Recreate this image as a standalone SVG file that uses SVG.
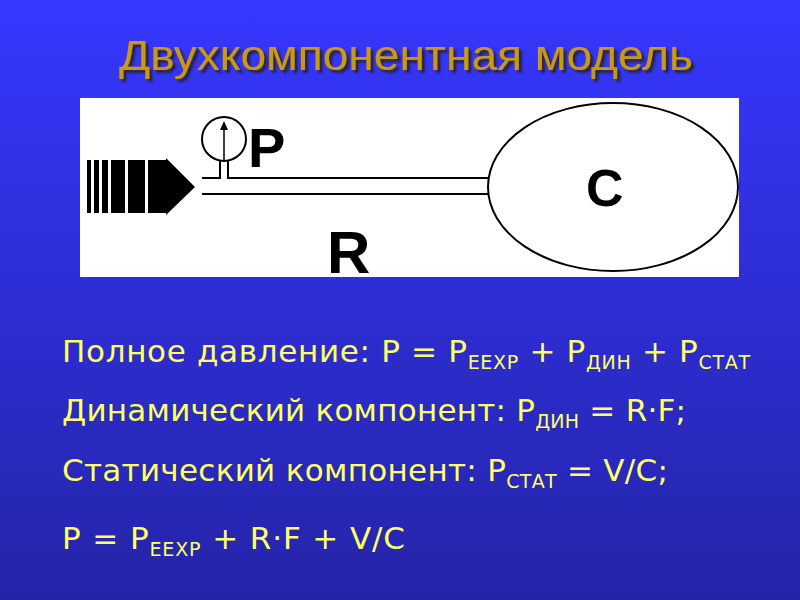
<svg xmlns="http://www.w3.org/2000/svg" width="800" height="600" viewBox="0 0 800 600">
<defs>
<linearGradient id="bg" x1="0" y1="0" x2="0" y2="1"><stop offset="0" stop-color="#3737ff"/><stop offset="1" stop-color="#2424a8"/></linearGradient>
<filter id="sh" x="-5%" y="-20%" width="110%" height="140%"><feDropShadow dx="3" dy="3" stdDeviation="0.8" flood-color="#222" flood-opacity="0.9"/></filter>
<style>
.t{font-family:"DejaVu Sans",sans-serif;font-size:31px;fill:#ffff66}
.s{font-size:19px}
.b{font-family:"Liberation Sans",Arial,sans-serif;font-weight:bold;fill:#000}
.ln{stroke:#000;stroke-width:2;fill:none}
</style>
</defs>
<rect width="800" height="600" fill="url(#bg)"/>
<g id="title" font-family="'Liberation Sans',sans-serif" font-size="42">
<text x="119" y="70" fill="#cc9911" filter="url(#sh)" textLength="574" lengthAdjust="spacingAndGlyphs">Двухкомпонентная модель</text>
</g>
<g id="picture">
<rect x="80" y="98" width="659" height="179" fill="#fff"/>
<g fill="#000">
<rect x="87" y="160" width="4" height="53"/><rect x="94" y="160" width="5" height="53"/><rect x="102" y="160" width="6" height="53"/>
<rect x="111" y="160" width="14" height="53"/><rect x="128" y="160" width="17" height="53"/><rect x="148" y="160" width="20" height="53"/>
<polygon points="166,158 195,187 166,215"/>
</g>
<path class="ln" d="M202 178H220V161M228 161V178H488M202 194H488"/>
<circle cx="224" cy="139" r="22" class="ln"/>
<line x1="224" y1="160" x2="224" y2="126" stroke="#000" stroke-width="1.5"/>
<polygon points="224,121 220,130 228,130" fill="#000"/>
<ellipse cx="613" cy="187" rx="125" ry="84" class="ln"/>
<text class="b" x="248" y="167" font-size="56">P</text>
<text class="b" x="586" y="206" font-size="52">C</text>
<text class="b" x="327" y="273" font-size="60">R</text>
</g>
<g id="formulas" class="t">
<text x="62" y="362" textLength="688">Полное давление: P = P<tspan class="s" dy="7">EEXP</tspan><tspan dy="-7"> + P</tspan><tspan class="s" dy="7">ДИН</tspan><tspan dy="-7"> + P</tspan><tspan class="s" dy="7">СТАТ</tspan></text>
<text x="62" y="421" textLength="624">Динамический компонент: P<tspan class="s" dy="7">ДИН</tspan><tspan dy="-7"> = R·F;</tspan></text>
<text x="62" y="481" textLength="606">Статический компонент: P<tspan class="s" dy="7">СТАТ</tspan><tspan dy="-7"> = V/C;</tspan></text>
<text x="62" y="549" textLength="343">P = P<tspan class="s" dy="7">EEXP</tspan><tspan dy="-7"> + R·F + V/C</tspan></text>
</g>
</svg>
